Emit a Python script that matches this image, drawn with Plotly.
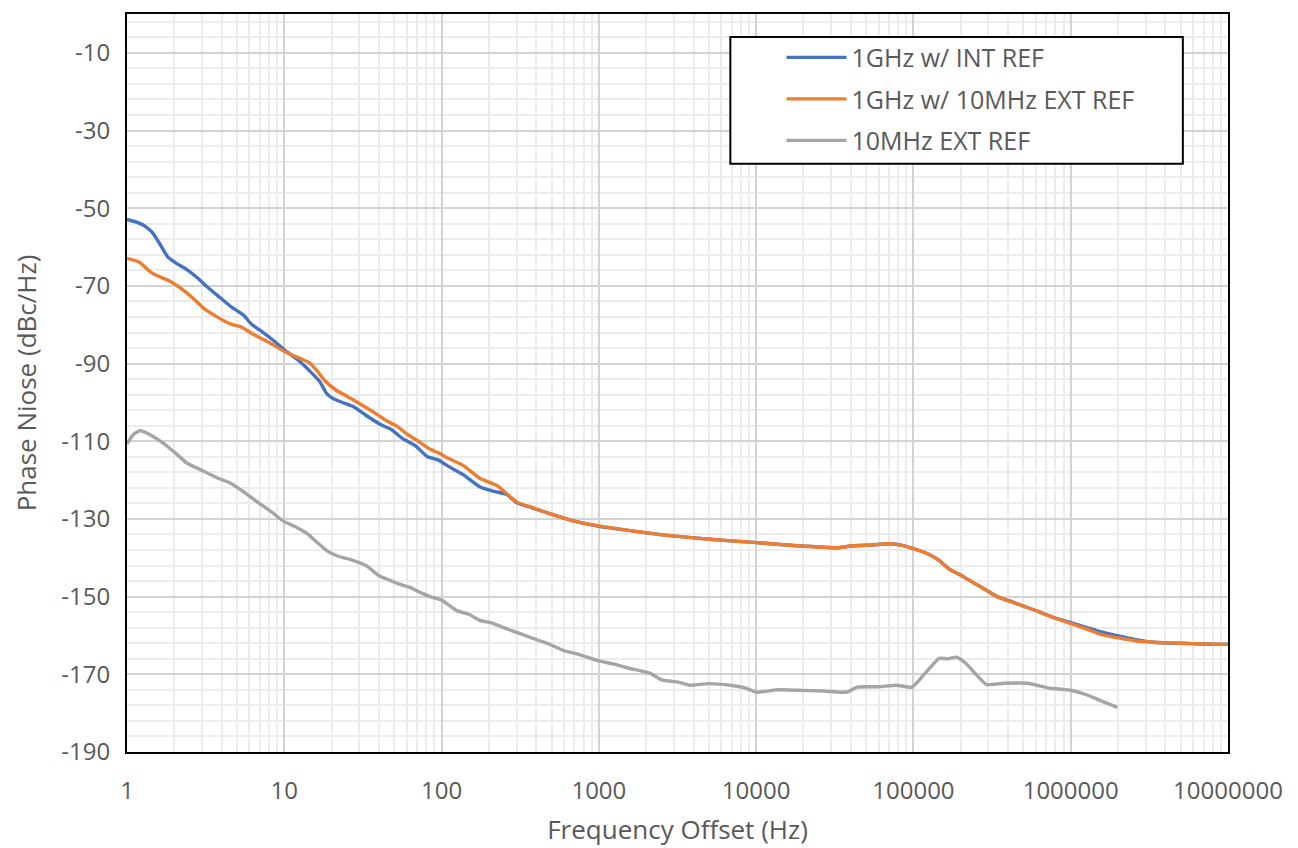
import plotly.graph_objects as go

# Phase noise traces (frequency offset in Hz, dBc/Hz)
int_ref_freq = [1, 1.15, 1.3, 1.46, 1.65, 1.82, 2.1, 2.4, 2.8, 3.2, 3.9, 4.6, 5.5, 6.2, 7.0, 8.5,
                10.4, 12.5, 14.5, 16.8, 18.5, 20.4, 23, 27.3, 33, 40.6, 48, 56.9, 68, 80.9, 95,
                110, 137, 176, 215, 260, 300, 380, 465, 685, 1000, 1580, 2830, 5300, 10100,
                18200, 33700, 41000, 55000, 70500, 85000, 99000, 122000, 145000, 170000, 200000,
                240000, 290000, 340000, 420000, 530000, 650000, 780000, 1.0e6, 1.25e6, 1.5e6,
                1.9e6, 2.3e6, 2.7e6, 3.5e6, 5e6, 7e6, 1e7]
int_ref_db = [-52.9, -53.6, -54.6, -56.4, -59.8, -62.6, -64.4, -65.8, -67.9, -70.1, -73.0, -75.4,
              -77.5, -79.9, -81.4, -84.0, -87.0, -89.4, -91.9, -94.6, -97.6, -99.0, -99.9, -101.0,
              -103.3, -105.6, -107.0, -109.4, -111.1, -113.9, -114.8, -116.4, -118.6, -121.8,
              -122.9, -123.7, -125.8, -127.2, -128.4, -130.5, -131.9, -133.0, -134.3, -135.3,
              -136.1, -136.9, -137.4, -136.9, -136.7, -136.4, -136.8, -137.6, -138.9, -140.6,
              -143.0, -144.5, -146.4, -148.3, -150.0, -151.3, -152.8, -154.1, -155.4, -156.7,
              -157.9, -158.9, -159.9, -160.6, -161.2, -161.8, -162.0, -162.2, -162.3]

ext_ref_freq = [1, 1.2, 1.4, 1.6, 1.88, 2.3, 2.7, 3.04, 3.6, 4.5, 5.4, 6.3, 8.0, 10.4, 12.5, 14.5,
                16.5, 18, 21.6, 25, 30.4, 37, 44.9, 52, 60, 70, 84, 97, 110, 137, 176, 225, 300,
                380, 465, 685, 1000, 1580, 2830, 5300, 10100, 18200, 33700, 41000, 55000, 70500,
                85000, 99000, 122000, 145000, 170000, 200000, 240000, 290000, 340000, 420000,
                530000, 650000, 780000, 1.0e6, 1.25e6, 1.5e6, 1.9e6, 2.3e6, 2.7e6, 3.5e6, 5e6,
                7e6, 1e7]
ext_ref_db = [-62.9, -63.9, -66.3, -67.6, -68.8, -71.2, -73.6, -75.6, -77.6, -79.7, -80.7, -82.4,
              -84.6, -87.2, -88.6, -89.8, -92.3, -94.3, -97.0, -98.4, -100.4, -102.5, -104.8,
              -106.1, -108.1, -109.8, -112.0, -113.1, -114.4, -116.2, -119.6, -121.4, -125.6,
              -127.1, -128.4, -130.5, -131.8, -133.0, -134.3, -135.3, -136.1, -136.9, -137.4,
              -136.9, -136.7, -136.4, -136.8, -137.6, -138.9, -140.6, -143.0, -144.5, -146.4,
              -148.3, -150.0, -151.3, -152.8, -154.1, -155.4, -156.9, -158.3, -159.5, -160.5,
              -161.0, -161.5, -161.8, -162.0, -162.2, -162.3]

ref_10m_freq = [1, 1.1, 1.21, 1.4, 1.69, 2.0, 2.4, 3.0, 3.9, 4.5, 5.5, 7.0, 8.3, 9.8, 12, 14, 16,
                18.7, 22, 27, 33, 40, 47, 54, 63, 73, 84.6, 100, 125, 150, 175, 210, 245, 300,
                365, 470, 590, 760, 970, 1250, 1580, 2100, 2540, 3200, 3800, 5000, 6800, 8500,
                10100, 13500, 18200, 27000, 37800, 44000, 60000, 77900, 98000, 120000, 146000,
                165000, 188000, 216000, 250000, 290000, 380000, 530000, 740000, 1e6, 1.25e6,
                1.53e6, 1.98e6]
ref_10m_db = [-110.7, -108.2, -107.3, -108.3, -110.4, -112.8, -115.6, -117.5, -119.7, -120.7,
              -123.0, -126.1, -128.2, -130.5, -132.2, -133.8, -135.9, -138.2, -139.6, -140.6,
              -142.0, -144.6, -145.8, -146.8, -147.6, -148.9, -150.0, -150.9, -153.6, -154.6,
              -156.1, -156.8, -157.9, -159.2, -160.5, -162.0, -163.8, -165.0, -166.4, -167.4,
              -168.5, -169.7, -171.5, -172.0, -172.8, -172.4, -172.8, -173.5, -174.6, -174.0,
              -174.1, -174.3, -174.6, -173.3, -173.2, -172.8, -173.3, -169.5, -165.9, -166.0,
              -165.6, -167.2, -170.0, -172.6, -172.3, -172.3, -173.6, -174.1, -175.2, -176.7,
              -178.5]

series = [
    ("1GHz w/ INT REF", int_ref_freq, int_ref_db, "#4472C4"),
    ("1GHz w/ 10MHz EXT REF", ext_ref_freq, ext_ref_db, "#ED7D31"),
    ("10MHz EXT REF", ref_10m_freq, ref_10m_db, "#A5A5A5"),
]

x_tick_vals = [1, 10, 100, 1000, 10000, 100000, 1000000, 10000000]
x_tick_text = ["1", "10", "100", "1000", "10000", "100000", "1000000", "10000000"]
y_tick_vals = [-190, -170, -150, -130, -110, -90, -70, -50, -30, -10]
y_tick_text = ["-190", "-170", "-150", "-130", "-110", "-90", "-70", "-50", "-30", "-10"]

# minor log grid at 2..9 of every decade
x_minor_vals = [k * 10 ** d for d in range(7) for k in range(2, 10)]

text_grey = "#595959"
font_name = "Open Sans"

fig = go.Figure()
for i, (name, xs, ys, color) in enumerate(series):
    fig.add_trace(go.Scatter(x=xs, y=ys, name=name, mode="lines",
                             legendgroup="g%d" % i,
                             line=dict(color=color, width=3.4, shape="spline", smoothing=0.5)))

fig.update_xaxes(type="log", range=[0, 7],
                 tickmode="array", tickvals=x_tick_vals, ticktext=x_tick_text,
                 ticklabelstandoff=16,
                 showline=True, mirror=True, linecolor="black", linewidth=2,
                 showgrid=True, gridcolor="#d3d3d3", gridwidth=1.5,
                 minor=dict(tickvals=x_minor_vals, showgrid=True, gridcolor="#ececec", gridwidth=1.5),
                 zeroline=False,
                 tickfont=dict(family=font_name, size=24, color=text_grey),
                 title=dict(text="Frequency Offset (Hz)", standoff=16,
                            font=dict(family=font_name, size=26, color=text_grey)))
fig.update_yaxes(range=[-190, 0],
                 tickmode="array", tickvals=y_tick_vals, ticktext=y_tick_text,
                 ticklabelstandoff=10,
                 showline=True, mirror=True, linecolor="black", linewidth=2,
                 showgrid=True, gridcolor="#d3d3d3", gridwidth=1.5,
                 minor=dict(tick0=-190, dtick=4, showgrid=True, gridcolor="#ececec", gridwidth=1.5),
                 zeroline=False,
                 tickfont=dict(family=font_name, size=24, color=text_grey),
                 title=dict(text="Phase Niose (dBc/Hz)", standoff=18,
                            font=dict(family=font_name, size=26, color=text_grey)))

# legend frame is a bit wider than plotly's own box, so draw it as a paper shape
fig.add_shape(type="rect", xref="paper", yref="paper",
              x0=0.548, x1=0.959, y0=0.797, y1=0.969,
              fillcolor="white", line=dict(color="black", width=2), layer="above")

# page has an 8px body margin, so the figure is a bit smaller than the window
fig.update_layout(
    width=1290, height=840,
    margin=dict(l=119, r=70, t=4, b=96),
    paper_bgcolor="white", plot_bgcolor="white",
    showlegend=True,
    legend=dict(x=0.55, y=0.972, xanchor="left", yanchor="top",
                bgcolor="rgba(0,0,0,0)", borderwidth=0,
                tracegroupgap=6, itemwidth=60,
                title=dict(text="&nbsp;" * 5, side="left"),
                font=dict(family=font_name, size=25, color=text_grey)),
)

fig.write_html("out.html")
